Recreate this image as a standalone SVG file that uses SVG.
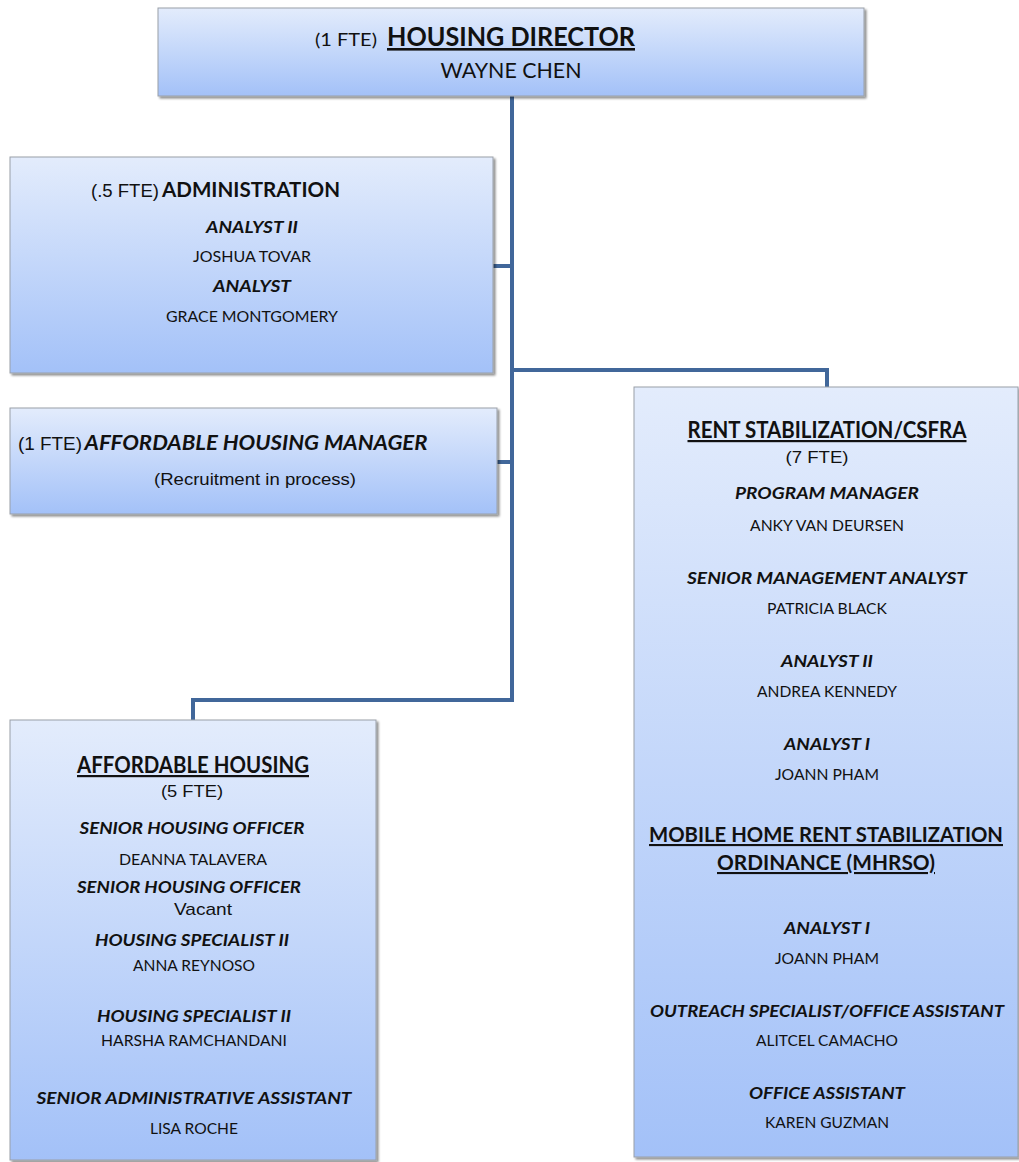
<svg xmlns="http://www.w3.org/2000/svg" width="1019" height="1162" viewBox="0 0 1019 1162">
<defs>
<linearGradient id="g" x1="0" y1="0" x2="0" y2="1">
<stop offset="0" stop-color="#e3ecfc"/>
<stop offset="1" stop-color="#a3c1f8"/>
</linearGradient>
<filter id="sh" x="-5%" y="-5%" width="110%" height="110%">
<feDropShadow dx="2" dy="2" stdDeviation="1.2" flood-color="#000" flood-opacity="0.45"/>
</filter>
</defs>
<style>
.box{fill:url(#g);stroke:#9a9fa8;stroke-width:1;filter:url(#sh)}
.c{fill:none;stroke:#41679a;stroke-width:4}
text{font-family:Lato,"Noto Sans",sans-serif;fill:#111;text-anchor:middle}
.a{font-family:"Liberation Sans",Arial,sans-serif}
.h{font-weight:bold;text-decoration:underline}
.b{font-weight:bold}
.t{font-weight:bold;font-style:italic;font-size:17px}
.n{font-size:16px}
</style>
<rect width="1019" height="1162" fill="#fff"/>
<g id="connectors">
<path class="c" d="M512 96 V700 H193 V720"/>
<path class="c" d="M493 266 H512"/>
<path class="c" d="M497 462 H512"/>
<path class="c" d="M512 370 H827 V387"/>
</g>
<g id="director">
<rect class="box" x="158" y="8" width="706" height="88"/>
<text x="346" y="46" style="font-size:18px" textLength="62" lengthAdjust="spacingAndGlyphs">(1 FTE)</text>
<text x="511" y="46" class="h" style="font-size:26px" textLength="248" lengthAdjust="spacingAndGlyphs">HOUSING DIRECTOR</text>
<text x="511" y="78" style="font-size:21px" textLength="141" lengthAdjust="spacingAndGlyphs">WAYNE CHEN</text>
</g>
<g id="administration">
<rect class="box" x="10" y="157" width="483" height="216"/>
<text x="125" y="197" class="a" style="font-size:18px" textLength="68" lengthAdjust="spacingAndGlyphs">(.5 FTE)</text>
<text x="251" y="197" class="b" style="font-size:21px" textLength="178" lengthAdjust="spacingAndGlyphs">ADMINISTRATION</text>
<text x="252" y="233" class="t" textLength="92" lengthAdjust="spacingAndGlyphs">ANALYST II</text>
<text x="252" y="262" class="n" textLength="118" lengthAdjust="spacingAndGlyphs">JOSHUA TOVAR</text>
<text x="252" y="292" class="t" textLength="78" lengthAdjust="spacingAndGlyphs">ANALYST</text>
<text x="252" y="322" class="n" textLength="172" lengthAdjust="spacingAndGlyphs">GRACE MONTGOMERY</text>
</g>
<g id="ah-manager">
<rect class="box" x="10" y="408" width="487" height="106"/>
<text x="50" y="450" class="a" style="font-size:18px" textLength="64" lengthAdjust="spacingAndGlyphs">(1 FTE)</text>
<text x="256" y="450" class="b" style="font-size:21px;font-style:italic" textLength="343" lengthAdjust="spacingAndGlyphs">AFFORDABLE HOUSING MANAGER</text>
<text x="255" y="485" class="a" style="font-size:17px" textLength="202" lengthAdjust="spacingAndGlyphs">(Recruitment in process)</text>
</g>
<g id="rent-stabilization">
<rect class="box" x="634" y="387" width="384" height="770"/>
<text x="827" y="438" class="h" style="font-size:22px" textLength="279" lengthAdjust="spacingAndGlyphs">RENT STABILIZATION/CSFRA</text>
<text x="817" y="463" class="a" style="font-size:17px" textLength="63" lengthAdjust="spacingAndGlyphs">(7 FTE)</text>
<text x="827" y="499" class="t" textLength="184" lengthAdjust="spacingAndGlyphs">PROGRAM MANAGER</text>
<text x="827" y="531" class="n" textLength="154" lengthAdjust="spacingAndGlyphs">ANKY VAN DEURSEN</text>
<text x="827" y="584" class="t" textLength="280" lengthAdjust="spacingAndGlyphs">SENIOR MANAGEMENT ANALYST</text>
<text x="827" y="614" class="n" textLength="120" lengthAdjust="spacingAndGlyphs">PATRICIA BLACK</text>
<text x="827" y="667" class="t" textLength="92" lengthAdjust="spacingAndGlyphs">ANALYST II</text>
<text x="827" y="697" class="n" textLength="140" lengthAdjust="spacingAndGlyphs">ANDREA KENNEDY</text>
<text x="827" y="750" class="t" textLength="86" lengthAdjust="spacingAndGlyphs">ANALYST I</text>
<text x="827" y="780" class="n" textLength="104" lengthAdjust="spacingAndGlyphs">JOANN PHAM</text>
<text x="826" y="842" class="h" style="font-size:21px" textLength="354" lengthAdjust="spacingAndGlyphs">MOBILE HOME RENT STABILIZATION</text>
<text x="826" y="870" class="h" style="font-size:21px" textLength="218" lengthAdjust="spacingAndGlyphs">ORDINANCE (MHRSO)</text>
<text x="827" y="934" class="t" textLength="86" lengthAdjust="spacingAndGlyphs">ANALYST I</text>
<text x="827" y="964" class="n" textLength="104" lengthAdjust="spacingAndGlyphs">JOANN PHAM</text>
<text x="827" y="1017" class="t" textLength="354" lengthAdjust="spacingAndGlyphs">OUTREACH SPECIALIST/OFFICE ASSISTANT</text>
<text x="827" y="1046" class="n" textLength="142" lengthAdjust="spacingAndGlyphs">ALITCEL CAMACHO</text>
<text x="827" y="1099" class="t" textLength="156" lengthAdjust="spacingAndGlyphs">OFFICE ASSISTANT</text>
<text x="827" y="1128" class="n" textLength="124" lengthAdjust="spacingAndGlyphs">KAREN GUZMAN</text>
</g>
<g id="affordable-housing">
<rect class="box" x="10" y="720" width="366" height="440"/>
<text x="193" y="773" class="h" style="font-size:22px" textLength="232" lengthAdjust="spacingAndGlyphs">AFFORDABLE HOUSING</text>
<text x="192" y="797" class="a" style="font-size:17px" textLength="62" lengthAdjust="spacingAndGlyphs">(5 FTE)</text>
<text x="192" y="834" class="t" textLength="225" lengthAdjust="spacingAndGlyphs">SENIOR HOUSING OFFICER</text>
<text x="193" y="865" class="n" textLength="148" lengthAdjust="spacingAndGlyphs">DEANNA TALAVERA</text>
<text x="189" y="893" class="t" textLength="224" lengthAdjust="spacingAndGlyphs">SENIOR HOUSING OFFICER</text>
<text x="203" y="915" class="a" style="font-size:17px" textLength="58" lengthAdjust="spacingAndGlyphs">Vacant</text>
<text x="192" y="946" class="t" textLength="194" lengthAdjust="spacingAndGlyphs">HOUSING SPECIALIST II</text>
<text x="194" y="971" class="n" textLength="122" lengthAdjust="spacingAndGlyphs">ANNA REYNOSO</text>
<text x="194" y="1022" class="t" textLength="194" lengthAdjust="spacingAndGlyphs">HOUSING SPECIALIST II</text>
<text x="194" y="1046" class="n" textLength="186" lengthAdjust="spacingAndGlyphs">HARSHA RAMCHANDANI</text>
<text x="194" y="1104" class="t" textLength="315" lengthAdjust="spacingAndGlyphs">SENIOR ADMINISTRATIVE ASSISTANT</text>
<text x="194" y="1134" class="n" textLength="88" lengthAdjust="spacingAndGlyphs">LISA ROCHE</text>
</g>
</svg>
